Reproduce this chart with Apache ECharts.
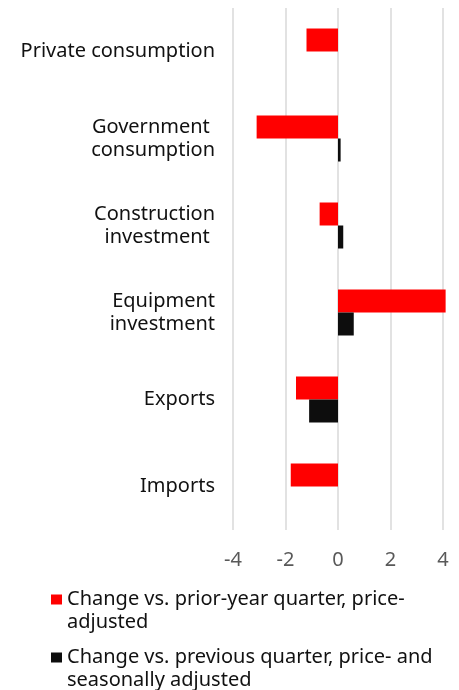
<!DOCTYPE html>
<html>
<head>
<meta charset="utf-8">
<script src="https://cdn.jsdelivr.net/npm/echarts@6/dist/echarts.min.js"></script>
<style>html,body{margin:0;padding:0;background:#fff}#c{width:459px;height:690px}</style>
</head>
<body>
<div id="c"></div>
<script>
const categories = ['Private consumption', 'Government \nconsumption', 'Construction\ninvestment ', 'Equipment\ninvestment', 'Exports', 'Imports'];
const seriesNames = ['Change vs. prior-year quarter, price-adjusted', 'Change vs. previous quarter, price- and seasonally adjusted'];
const legendLabels = ['Change vs. prior-year quarter, price-\nadjusted', 'Change vs. previous quarter, price- and\nseasonally adjusted'];
const yoyValues = [-1.2, -3.1, -0.7, 4.1, -1.6, -1.8];
const qoqValues = [0, 0.1, 0.2, 0.6, -1.1, 0];
const xTicks = [-4, -2, 0, 2, 4];

const FONT = 'Noto Sans';
const chart = echarts.init(document.getElementById('c'));
chart.setOption({
  animation: false,
  grid: { left: 233, right: 16, top: 8, bottom: 160, containLabel: false },
  legend: {
    orient: 'vertical',
    left: 51,
    top: 588,
    height: 130,
    padding: 0,
    itemGap: 12,
    itemWidth: 11,
    itemHeight: 46,
    icon: 'path://M0,0M0,6.5h11v10h-11zM0,46',
    selectedMode: false,
    data: seriesNames,
    formatter: function (name) { return legendLabels[seriesNames.indexOf(name)]; },
    textStyle: { fontFamily: FONT, fontSize: 20, color: '#111', lineHeight: 23 }
  },
  xAxis: {
    type: 'value',
    min: xTicks[0],
    max: xTicks[xTicks.length - 1],
    interval: 2,
    axisLine: { show: false },
    axisTick: { show: false },
    splitLine: { show: true, lineStyle: { color: '#d9d9d9', width: 1.5 } },
    axisLabel: { fontFamily: FONT, fontSize: 20, color: '#595959', margin: 20 }
  },
  yAxis: {
    type: 'category',
    data: categories,
    inverse: true,
    axisLine: { show: false },
    axisTick: { show: false },
    axisLabel: { fontFamily: FONT, fontSize: 20, color: '#111', margin: 18, lineHeight: 23 }
  },
  series: [
    { name: seriesNames[0], type: 'bar', data: yoyValues, barWidth: 23, barGap: '0%', clip: false, itemStyle: { color: '#ff0000' } },
    { name: seriesNames[1], type: 'bar', data: qoqValues, barWidth: 23, barGap: '0%', clip: false, itemStyle: { color: '#0d0d0d' } }
  ]
});
</script>
</body>
</html>
